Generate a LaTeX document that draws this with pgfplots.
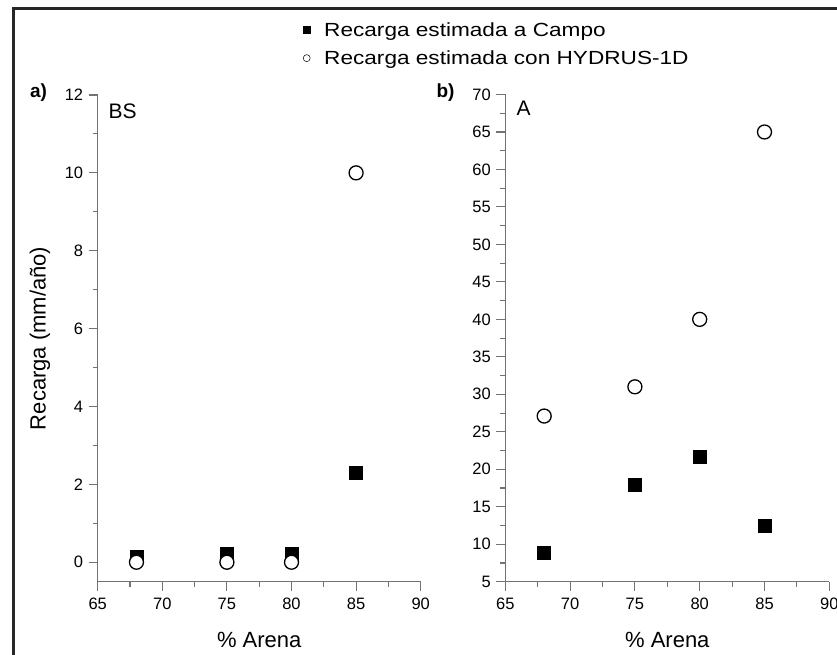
\documentclass[border=0pt]{standalone}
\usepackage{fontspec}
\setmainfont{Liberation Sans}
\usepackage{graphicx}
\usepackage{pgfplots}
\pgfplotsset{compat=1.18}
\definecolor{axgray}{gray}{0.45}
\newcommand\leg[1]{\scalebox{1.19}[1]{#1}}
\begin{document}
\begin{tikzpicture}
\useasboundingbox (0pt,0pt) rectangle (837pt,655pt);
\draw[line width=3pt, black!85] (13pt,-5pt) -- (13pt,646.5pt) -- (845pt,646.5pt);
\pgfplotsset{
  panel/.style={
    scale only axis, anchor=south west,
    axis lines=left, axis line style={-, draw=axgray, line width=1.1pt},
    tick align=outside, tick style={draw=axgray, line width=1.1pt},
    major tick length=9pt, minor tick length=5pt, minor tick num=1,
    xmin=65, xmax=90, xtick={65,70,...,90},
    /pgf/number format/assume math mode=true,
    tick label style={font=\fontsize{16.5}{19}\selectfont},
    xticklabel style={yshift=-4pt},
    yticklabel style={xshift=-2pt},
    label style={font=\fontsize{22}{26}\selectfont},
    xlabel={\% Arena},
    x label style={at={(axis description cs:0.5,-0.1197)}, anchor=center},
    clip=false,
  },
  campo/.style={only marks, mark=square*, mark size=6.5pt, mark options={fill=black, draw=black}},
  hydrus/.style={only marks, mark=*, mark size=7pt, mark options={fill=white, draw=black, line width=1.3pt}},
}
\begin{axis}[panel, at={(97.7pt,73.3pt)}, width=323pt, height=486.7pt,
  ymin=-0.5, ymax=12, ytick={0,2,...,12},
  ylabel={Recarga (mm/año)},
  y label style={at={(axis description cs:-0.1786,0.5)}, anchor=center},
  legend style={draw=none, fill=none, inner sep=0pt, row sep=9pt,
    at={(axis description cs:0.6356,1.154)}, anchor=north west,
    font=\fontsize{19}{22}\selectfont, legend cell align=left,
    /tikz/every odd column/.append style={column sep=12pt}},
  legend image code/.code={\draw[mark repeat=2,mark phase=2,#1] plot coordinates {(0pt,0pt) (5pt,0pt) (10pt,0pt)};},
]
\addlegendimage{only marks, mark=square*, mark size=3.5pt, mark options={fill=black, draw=black}}
\addlegendentry{\leg{Recarga estimada a Campo}}
\addlegendimage{only marks, mark=*, mark size=3.5pt, mark options={fill=white, draw=black, line width=0.5pt}}
\addlegendentry{\leg{Recarga estimada con HYDRUS-1D}}
\addplot[campo, forget plot] coordinates {(68,0.13) (75,0.22) (80,0.22) (85,2.3)};
\addplot[hydrus, forget plot] coordinates {(68,0) (75,0) (80,0) (85,10)};
\end{axis}
\begin{axis}[panel, at={(505.3pt,73.3pt)}, width=324pt, height=487.2pt,
  ymin=5, ymax=70, ytick={5,10,...,70},
]
\addplot[campo] coordinates {(68,8.9) (75,17.9) (80,21.7) (85,12.5)};
\addplot[hydrus] coordinates {(68,27.1) (75,31) (80,40) (85,65)};
\end{axis}
\node[font=\bfseries\fontsize{19}{22}\selectfont] at (38.5pt,562pt) {a)};
\node[font=\bfseries\fontsize{19}{22}\selectfont] at (445.5pt,562pt) {b)};
\node[font=\fontsize{21}{25}\selectfont, anchor=west] at (105pt,544pt) {BS};
\node[font=\fontsize{21}{25}\selectfont, anchor=west] at (513pt,547pt) {A};
\end{tikzpicture}
\end{document}
